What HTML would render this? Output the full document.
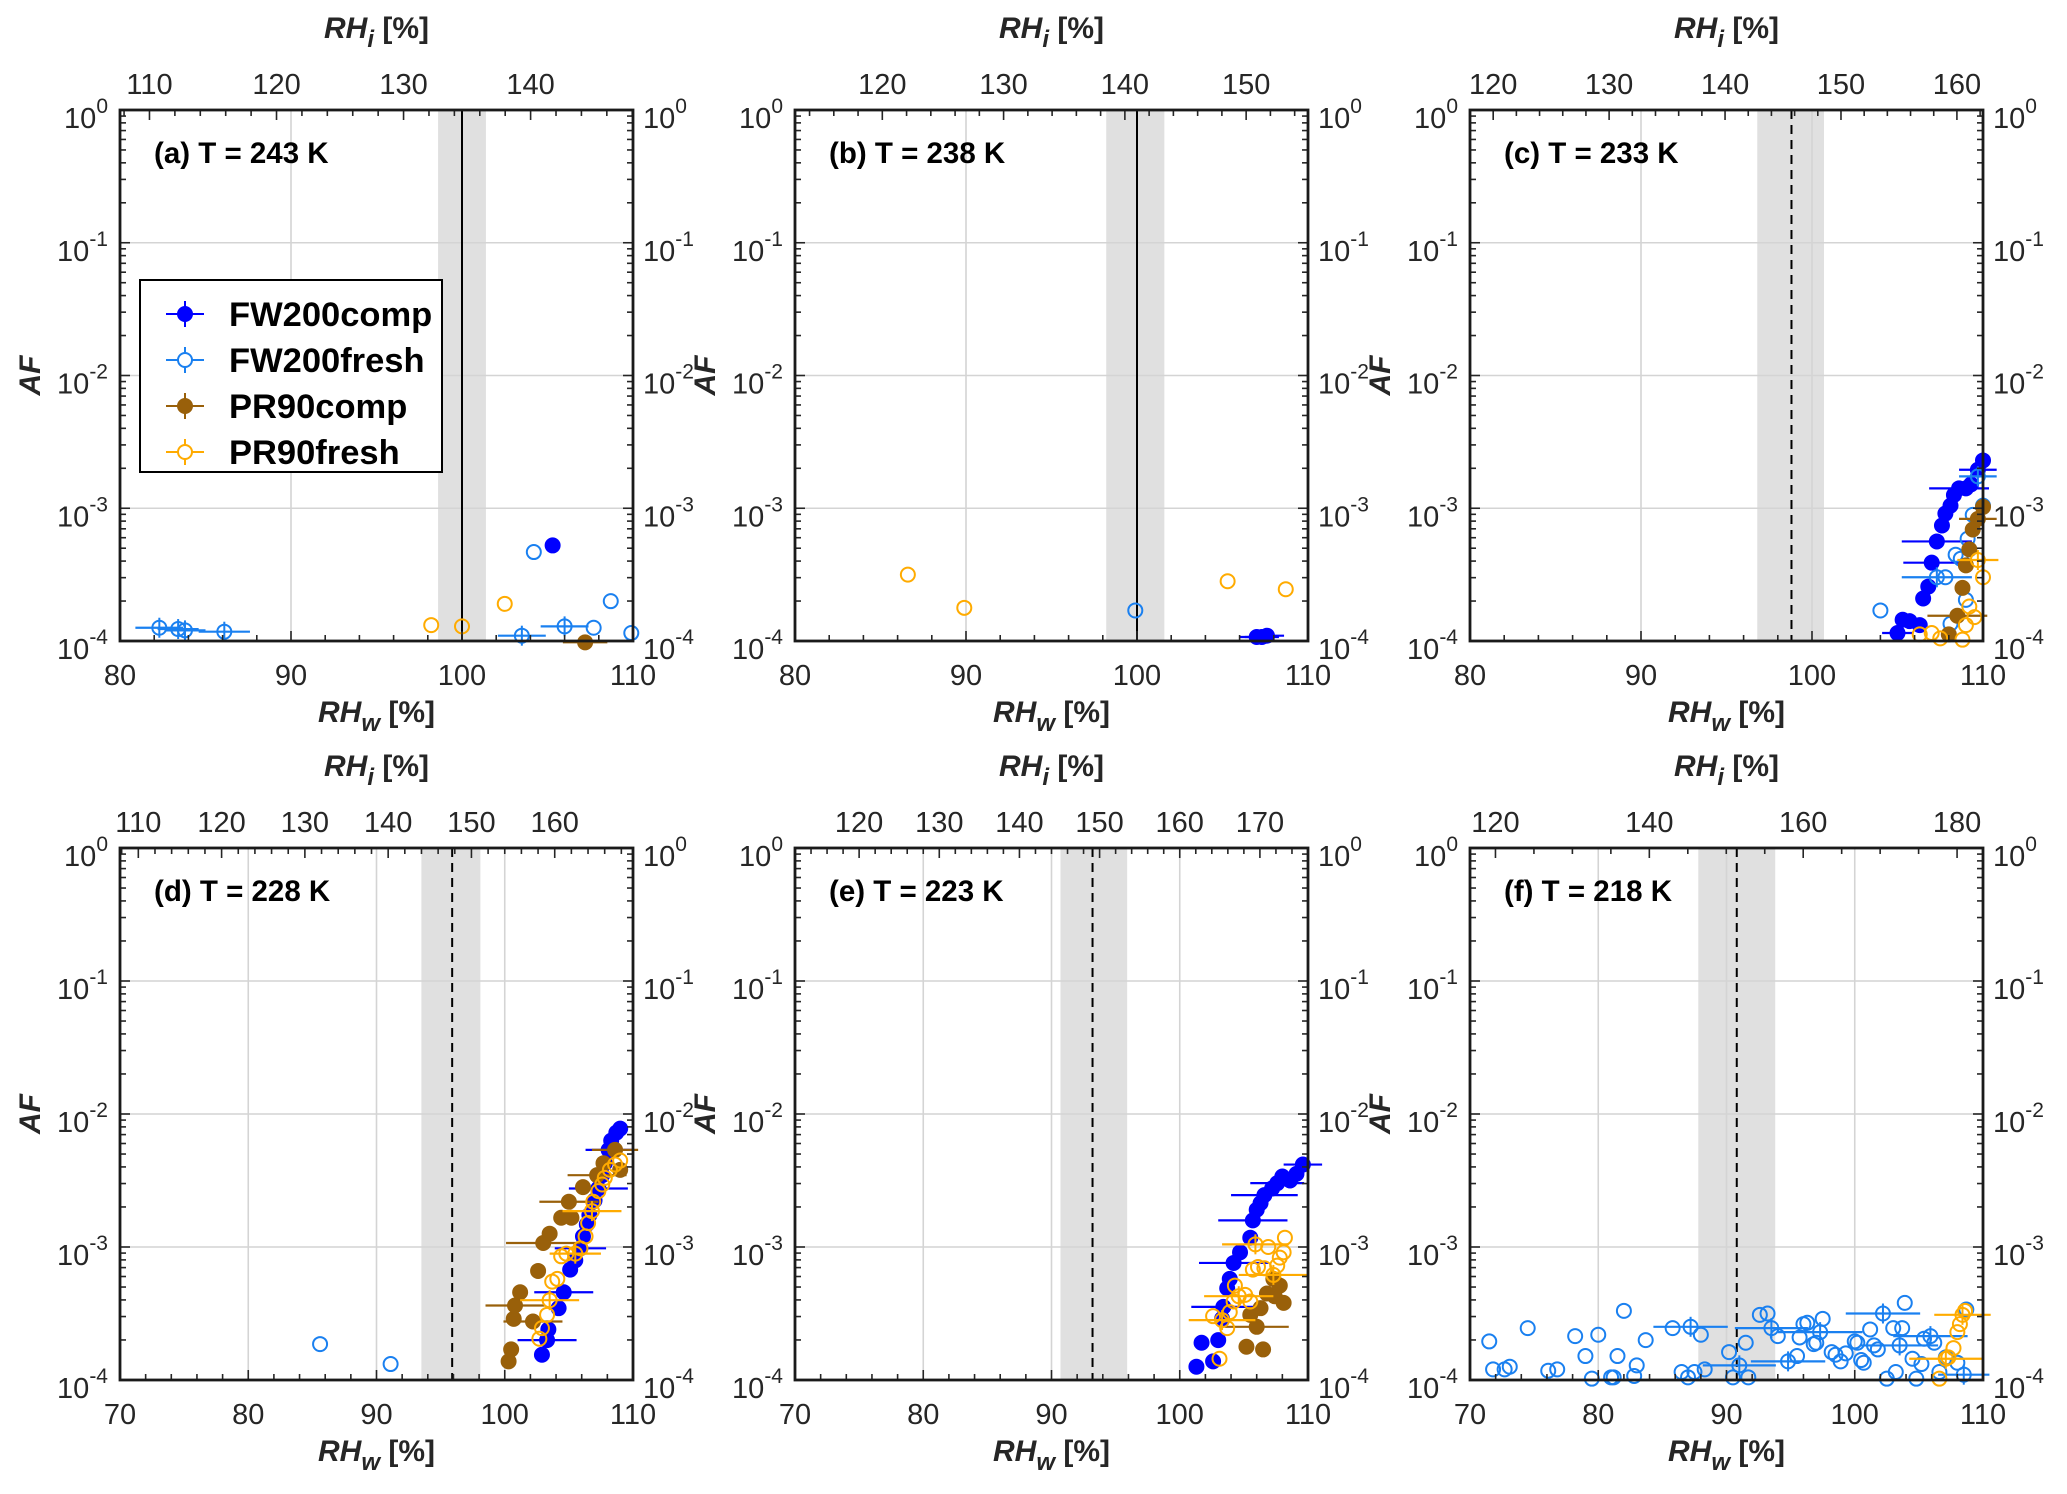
<!DOCTYPE html>
<html><head><meta charset="utf-8"><title>AF vs RH panels</title>
<style>
html,body{margin:0;padding:0;background:#fff;}
svg{display:block;font-family:"Liberation Sans",Arial,sans-serif;}
</style></head>
<body>
<svg id="fig" width="2067" height="1494" viewBox="0 0 2067 1494" xmlns="http://www.w3.org/2000/svg"></svg>
<script>
// ---------- data (RHw in %, AF as log10 values, xerr in % RHw) ----------
const a_fwc_rhw=[105.3];
const a_fwc_logaf=[-3.28];
const a_fwc_xerr=[0];
const a_fwf_rhw=[82.3,83.4,83.8,86.1,103.5,104.2,106.0,107.7,108.7,109.9];
const a_fwf_logaf=[-3.90,-3.91,-3.92,-3.93,-3.96,-3.33,-3.89,-3.90,-3.70,-3.94];
const a_fwf_xerr=[1.4,1.2,1.2,1.5,1.4,0,1.4,0,0,0];
const a_prc_rhw=[107.2];
const a_prc_logaf=[-4.01];
const a_prc_xerr=[1.3];
const a_prf_rhw=[98.2,100,102.5];
const a_prf_logaf=[-3.88,-3.89,-3.72];
const a_prf_xerr=[0,0,0];

const b_fwc_rhw=[107.0,107.3,107.6];
const b_fwc_logaf=[-3.97,-3.97,-3.96];
const b_fwc_xerr=[1,1,1];
const b_fwf_rhw=[99.9];
const b_fwf_logaf=[-3.77];
const b_fwf_xerr=[0];
const b_prc_rhw=[];
const b_prc_logaf=[];
const b_prc_xerr=[];
const b_prf_rhw=[86.6,89.9,105.3,108.7];
const b_prf_logaf=[-3.50,-3.75,-3.55,-3.61];
const b_prf_xerr=[0,0,0,0];

const c_fwc_rhw=[110.0,109.7,109.3,109.0,108.6,108.3,108.1,107.8,107.6,107.3,107.0,106.8,106.5,105.3,105.7,106.3,105.0];
const c_fwc_logaf=[-2.64,-2.71,-2.82,-2.85,-2.85,-2.90,-2.98,-3.04,-3.13,-3.25,-3.41,-3.59,-3.68,-3.84,-3.85,-3.88,-3.94];
const c_fwc_xerr=[0,1.1,0,0,1.75,0,0,0,0,2.05,1.66,0,0,0,0,0,0.9];
const c_fwf_rhw=[109.7,110.0,109.4,109.1,108.4,108.7,107.3,107.8,104.0,109.0,108.1];
const c_fwf_logaf=[-2.76,-2.98,-3.05,-3.23,-3.35,-3.38,-3.52,-3.52,-3.77,-3.69,-3.87];
const c_fwf_xerr=[1.1,0,0,0,0,0,2.05,0,0,0,0];
const c_prc_rhw=[110.0,109.7,109.4,109.2,109.0,108.8,108.5,108.0];
const c_prc_logaf=[-2.99,-3.08,-3.16,-3.31,-3.43,-3.60,-3.81,-3.95];
const c_prc_xerr=[0,1.1,0,0,0,0,1.75,0];
const c_prf_rhw=[109.7,110.0,109.2,109.5,109.0,106.3,107.0,107.5,108.8];
const c_prf_logaf=[-3.39,-3.52,-3.74,-3.82,-3.88,-3.95,-3.94,-3.98,-3.99];
const c_prf_xerr=[1.2,0,0,0,0,0,0,0,0];

const d_fwc_rhw=[102.9,103.3,103.4,104.2,104.6,105.1,105.5,105.9,106.1,106.4,106.6,107.0,107.3,107.6,107.8,108.1,108.3,108.7,109.0];
const d_fwc_logaf=[-3.81,-3.70,-3.62,-3.46,-3.34,-3.17,-3.10,-3.01,-2.92,-2.83,-2.76,-2.65,-2.56,-2.46,-2.37,-2.27,-2.20,-2.14,-2.11];
const d_fwc_xerr=[0,2.3,0,0,2.3,0,0,2.0,0,0,0,0,2.3,0,0,1.8,0,0,0];
const d_fwf_rhw=[85.6,91.1];
const d_fwf_logaf=[-3.73,-3.88];
const d_fwf_xerr=[0,0];
const d_prc_rhw=[100.3,100.5,100.7,100.8,101.2,102.2,102.6,103.0,103.5,104.4,105.2,105.0,106.1,107.2,107.7,108.6,109.0];
const d_prc_logaf=[-3.86,-3.77,-3.54,-3.44,-3.34,-3.56,-3.18,-2.97,-2.90,-2.78,-2.78,-2.66,-2.55,-2.46,-2.37,-2.27,-2.42];
const d_prc_xerr=[0,0,0,2.3,0,2.3,0,2.9,0,0,0,2.3,0,2.3,0,1.8,0];
const d_prf_rhw=[102.7,102.9,103.3,103.5,103.7,104.1,104.4,104.8,105.5,105.9,106.3,106.5,106.8,106.9,107.3,107.6,107.8,108.2,108.6,109.0];
const d_prf_logaf=[-3.69,-3.61,-3.51,-3.40,-3.26,-3.24,-3.07,-3.05,-3.05,-3.01,-2.92,-2.82,-2.73,-2.66,-2.58,-2.53,-2.48,-2.42,-2.38,-2.35];
const d_prf_xerr=[0,0,0,2.3,0,0,0,0,2.0,0,0,0,2.3,0,0,0,0,0,0,0];

const e_fwc_rhw=[101.3,101.7,102.6,103.0,103.3,103.4,103.7,103.9,104.2,104.7,105.5,105.7,106.0,106.3,106.6,107.2,107.6,108.0,108.6,109.1,109.6];
const e_fwc_logaf=[-3.90,-3.72,-3.86,-3.70,-3.54,-3.45,-3.31,-3.24,-3.12,-3.04,-2.93,-2.80,-2.72,-2.67,-2.61,-2.56,-2.52,-2.47,-2.50,-2.45,-2.38];
const e_fwc_xerr=[0,0,0,0,0,2.5,0,0,2.7,0,0,2.7,0,0,2.6,0,2.1,0,0,0,1.5];
const e_fwf_rhw=[];
const e_fwf_logaf=[];
const e_fwf_xerr=[];
const e_prc_rhw=[105.2,106.5,105.5,106.0,106.3,106.8,107.4,108.1,107.8,107.3];
const e_prc_logaf=[-3.75,-3.77,-3.51,-3.60,-3.46,-3.35,-3.37,-3.42,-3.29,-3.24];
const e_prc_xerr=[0,0,0,2.5,0,0,0,0,0,0];
const e_prf_rhw=[103.1,102.6,103.3,103.7,103.9,104.2,104.6,105.1,105.5,104.3,105.7,106.1,106.6,107.3,107.6,107.8,106.9,108.1,108.2,105.9];
const e_prf_logaf=[-3.84,-3.52,-3.55,-3.61,-3.49,-3.41,-3.37,-3.36,-3.41,-3.29,-3.17,-3.15,-3.16,-3.21,-3.14,-3.08,-3.00,-3.04,-2.93,-2.98];
const e_prf_xerr=[0,0,2.6,0,0,0,2.7,0,0,0,0,0,0,2.7,0,0,0,0,0,2.6];

const f_fwc_rhw=[];
const f_fwc_logaf=[];
const f_fwc_xerr=[];
const f_fwf_rhw=[71.5,71.8,72.7,73.1,74.5,76.1,76.8,78.2,79.0,79.5,80.0,81.0,81.2,81.5,82.0,82.8,83.0,83.7,85.8,86.5,87.0,87.2,87.5,88.0,88.3,90.2,90.5,91.0,91.5,91.7,92.6,93.2,93.5,94.0,94.8,95.5,95.7,96.0,96.3,96.8,97.0,97.3,97.5,98.2,98.5,98.9,99.3,100.0,100.2,100.5,100.7,101.2,101.5,101.8,102.2,102.5,103.0,103.2,103.5,103.7,103.9,104.5,104.8,105.2,105.4,105.9,106.2,106.6,107.1,108.0,108.5,108.7];
const f_fwf_logaf=[-3.71,-3.92,-3.92,-3.90,-3.61,-3.93,-3.92,-3.67,-3.82,-3.99,-3.66,-3.98,-3.98,-3.82,-3.48,-3.97,-3.89,-3.70,-3.61,-3.94,-3.98,-3.60,-3.94,-3.66,-3.92,-3.79,-3.98,-3.89,-3.72,-3.98,-3.51,-3.50,-3.61,-3.67,-3.86,-3.82,-3.68,-3.58,-3.57,-3.73,-3.72,-3.64,-3.54,-3.79,-3.81,-3.86,-3.80,-3.71,-3.72,-3.85,-3.87,-3.62,-3.74,-3.77,-3.50,-3.99,-3.61,-3.94,-3.74,-3.61,-3.42,-3.84,-3.99,-3.88,-3.69,-3.67,-3.72,-3.94,-3.83,-3.87,-3.96,-3.47];
const f_fwf_xerr=[0,0,0,0,0,0,0,0,0,0,0,0,0,0,0,0,0,0,0,0,0,2.9,0,0,0,0,0,2.85,0,0,0,0,2.85,0,2.9,0,0,0,0,0,0,3.3,0,0,0,0,0,0,0,0,0,0,0,0,2.9,0,0,0,3.0,0,0,0,0,0,0,2.9,0,0,0,0,2.0,0];
const f_prc_rhw=[];
const f_prc_logaf=[];
const f_prc_xerr=[];
const f_prf_rhw=[106.6,107.1,107.3,107.7,108.0,108.2,108.4,108.6];
const f_prf_logaf=[-3.99,-3.84,-3.83,-3.76,-3.64,-3.58,-3.51,-3.48];
const f_prf_xerr=[0,2.85,0,0,0,0,2.2,0];

// tick label arrays
const xTicksABC=[80,90,100,110];
const xTicksDEF=[70,80,90,100,110];
const topTicksA=[110,120,130,140];
const topTicksB=[120,130,140,150];
const topTicksC=[120,130,140,150,160];
const topTicksD=[110,120,130,140,150,160];
const topTicksE=[120,130,140,150,160,170];
const topTicksF=[120,140,160,180];
const yExponents=[0,-1,-2,-3,-4];

// ---------- drawing ----------
const NS='http://www.w3.org/2000/svg';
const svg=document.getElementById('fig');
function mk(tag,attrs,parent){const e=document.createElementNS(NS,tag);for(const k in attrs)e.setAttribute(k,attrs[k]);(parent||svg).appendChild(e);return e;}

const COL={fwc:'#0000ff',fwf:'#1a80f0',prc:'#99600a',prf:'#ffab00'};
const FILLED={fwc:true,fwf:false,prc:true,prf:false};
const TICKFS=29;

const panels=[
 {id:'a',L:120,R:633,T:110,B:641,x0:80,x1:110,fac:1.346,xt:xTicksABC,tt:topTicksA,tminor:2,line:100,dash:false,s0:98.6,s1:101.4,title:'(a) T = 243 K',S:{fwc:[a_fwc_rhw,a_fwc_logaf,a_fwc_xerr],fwf:[a_fwf_rhw,a_fwf_logaf,a_fwf_xerr],prc:[a_prc_rhw,a_prc_logaf,a_prc_xerr],prf:[a_prf_rhw,a_prf_logaf,a_prf_xerr]}},
 {id:'b',L:795,R:1308,T:110,B:641,x0:80,x1:110,fac:1.41,xt:xTicksABC,tt:topTicksB,tminor:2,line:100,dash:false,s0:98.2,s1:101.6,title:'(b) T = 238 K',S:{fwc:[b_fwc_rhw,b_fwc_logaf,b_fwc_xerr],fwf:[b_fwf_rhw,b_fwf_logaf,b_fwf_xerr],prc:[b_prc_rhw,b_prc_logaf,b_prc_xerr],prf:[b_prf_rhw,b_prf_logaf,b_prf_xerr]}},
 {id:'c',L:1470,R:1983,T:110,B:641,x0:80,x1:110,fac:1.475,xt:xTicksABC,tt:topTicksC,tminor:2,line:98.8,dash:true,s0:96.8,s1:100.7,title:'(c) T = 233 K',S:{fwc:[c_fwc_rhw,c_fwc_logaf,c_fwc_xerr],fwf:[c_fwf_rhw,c_fwf_logaf,c_fwf_xerr],prc:[c_prc_rhw,c_prc_logaf,c_prc_xerr],prf:[c_prf_rhw,c_prf_logaf,c_prf_xerr]}},
 {id:'d',L:120,R:633,T:848,B:1380,x0:70,x1:110,fac:1.54,xt:xTicksDEF,tt:topTicksD,tminor:2,line:95.9,dash:true,s0:93.5,s1:98.1,title:'(d) T = 228 K',S:{fwc:[d_fwc_rhw,d_fwc_logaf,d_fwc_xerr],fwf:[d_fwf_rhw,d_fwf_logaf,d_fwf_xerr],prc:[d_prc_rhw,d_prc_logaf,d_prc_xerr],prf:[d_prf_rhw,d_prf_logaf,d_prf_xerr]}},
 {id:'e',L:795,R:1308,T:848,B:1380,x0:70,x1:110,fac:1.60,xt:xTicksDEF,tt:topTicksE,tminor:2,line:93.2,dash:true,s0:90.7,s1:95.9,title:'(e) T = 223 K',S:{fwc:[e_fwc_rhw,e_fwc_logaf,e_fwc_xerr],fwf:[e_fwf_rhw,e_fwf_logaf,e_fwf_xerr],prc:[e_prc_rhw,e_prc_logaf,e_prc_xerr],prf:[e_prf_rhw,e_prf_logaf,e_prf_xerr]}},
 {id:'f',L:1470,R:1983,T:848,B:1380,x0:70,x1:110,fac:1.667,xt:xTicksDEF,tt:topTicksF,tminor:5,line:90.8,dash:true,s0:87.8,s1:93.8,title:'(f) T = 218 K',S:{fwc:[f_fwc_rhw,f_fwc_logaf,f_fwc_xerr],fwf:[f_fwf_rhw,f_fwf_logaf,f_fwf_xerr],prc:[f_prc_rhw,f_prc_logaf,f_prc_xerr],prf:[f_prf_rhw,f_prf_logaf,f_prf_xerr]}}
];

function drawMarker(g,kind,cx,cy,errPx){
  const c=COL[kind];
  if(errPx>0){
    const h=mk('line',{x1:cx-errPx,y1:cy,x2:cx+errPx,y2:cy,stroke:c,'stroke-width':2.2},g);
    
    
    if(!FILLED[kind]){
      const v=mk('line',{x1:cx,y1:cy-10,x2:cx,y2:cy+10,stroke:c,'stroke-width':2},g);
      
      
    }
  }
  const m=mk('circle',{cx:cx,cy:cy,r:FILLED[kind]?7.5:7,fill:FILLED[kind]?c:'none',stroke:c,'stroke-width':FILLED[kind]?1:2},g);
  
  
}

function superLabel(g,x,y,exp,anchor){
  const t=mk('text',{x:x,y:y,'font-size':TICKFS,fill:'#262626','text-anchor':anchor},g);
  t.appendChild(document.createTextNode('10'));
  const s=mk('tspan',{dy:-15,'font-size':21},t);
  s.textContent=String(exp);
  return t;
}

panels.forEach(p=>{
  const g=mk('g',{});
  
  
  const xs=v=>p.L+(v-p.x0)/(p.x1-p.x0)*(p.R-p.L);
  const ys=lg=>p.B-(lg+4)/4*(p.B-p.T);
  const band=mk('rect',{x:xs(p.s0),y:p.T,width:xs(p.s1)-xs(p.s0),height:p.B-p.T,fill:'#e0e0e0'},g);
  
  
  p.xt.forEach(v=>{
    if(v===p.x0||v===p.x1)return;
    const l=mk('line',{x1:xs(v),y1:p.T,x2:xs(v),y2:p.B,stroke:'#d4d4d4','stroke-width':1.6},g);
    
    
  });
  yExponents.forEach(e=>{
    if(e===0||e===-4)return;
    const l=mk('line',{x1:p.L,y1:ys(e),x2:p.R,y2:ys(e),stroke:'#d4d4d4','stroke-width':1.6},g);
    
    
  });
  const vl=mk('line',{x1:xs(p.line),y1:p.T,x2:xs(p.line),y2:p.B,stroke:'#000','stroke-width':2,'stroke-dasharray':p.dash?'9,6':'none'},g);
  
  
  ['fwc','fwf','prc','prf'].forEach(k=>{
    const [xv,yv,ev]=p.S[k];
    const sg=mk('g',{},g);
    
    
    xv.forEach((v,i)=>{
      const errPx=(ev[i]||0)/(p.x1-p.x0)*(p.R-p.L);
      drawMarker(sg,k,xs(v),ys(yv[i]),errPx);
    });
  });
  const tk=mk('g',{stroke:'#262626','stroke-width':1.6},g);
  
  
  for(let v=p.x0;v<=p.x1+1e-9;v+=2){
    const maj=p.xt.indexOf(v)>=0;
    mk('line',{x1:xs(v),y1:p.B,x2:xs(v),y2:p.B-(maj?10:6)},tk);
  }
  const rt=v=>p.L+(v/p.fac-p.x0)/(p.x1-p.x0)*(p.R-p.L);
  for(let v=Math.ceil(p.x0*p.fac/p.tminor)*p.tminor;v<=p.x1*p.fac;v+=p.tminor){
    const maj=p.tt.indexOf(v)>=0;
    mk('line',{x1:rt(v),y1:p.T,x2:rt(v),y2:p.T+(maj?10:6)},tk);
  }
  for(let e=-4;e<0;e++){
    for(let m=1;m<=9;m++){
      const y=ys(e+Math.log10(m));
      const len=m===1?10:6;
      mk('line',{x1:p.L,y1:y,x2:p.L+len,y2:y},tk);
      mk('line',{x1:p.R,y1:y,x2:p.R-len,y2:y},tk);
    }
  }
  const box=mk('rect',{x:p.L,y:p.T,width:p.R-p.L,height:p.B-p.T,fill:'none',stroke:'#1a1a1a','stroke-width':2.8},g);
  
  
  p.xt.forEach(v=>{
    const t=mk('text',{x:xs(v),y:p.B+44,'font-size':TICKFS,fill:'#262626','text-anchor':'middle'},g);
    t.textContent=v;
    
    
  });
  p.tt.forEach(v=>{
    const t=mk('text',{x:rt(v),y:p.T-16,'font-size':TICKFS,fill:'#262626','text-anchor':'middle'},g);
    t.textContent=v;
    
    
  });
  yExponents.forEach(e=>{
    const tl=superLabel(g,p.L-12,ys(e)+18,e,'end');
    
    
    const tr=superLabel(g,p.R+10,ys(e)+18,e,'start');
    
    
  });
  const cx=(p.L+p.R)/2;
  const xl=mk('text',{x:cx,y:p.B+81,'font-size':30,'font-weight':'bold',fill:'#262626','text-anchor':'middle'},g);
  xl.innerHTML='<tspan font-style="italic">RH</tspan><tspan font-style="italic" font-size="24" dy="9">w</tspan><tspan dy="-9"> [%]</tspan>';
  
  
  const tl=mk('text',{x:cx,y:p.T-72,'font-size':30,'font-weight':'bold',fill:'#262626','text-anchor':'middle'},g);
  tl.innerHTML='<tspan font-style="italic">RH</tspan><tspan font-style="italic" font-size="24" dy="9">i</tspan><tspan dy="-9"> [%]</tspan>';
  
  
  const yc=(p.T+p.B)/2;
  const yl=mk('text',{x:p.L-80,y:yc,'font-size':30,'font-weight':'bold','font-style':'italic',fill:'#262626','text-anchor':'middle',transform:'rotate(-90 '+(p.L-80)+' '+yc+')'},g);
  yl.textContent='AF';
  
  
  const ti=mk('text',{x:p.L+34,y:p.T+53,'font-size':29.5,'font-weight':'bold',fill:'#000'},g);
  ti.textContent=p.title;
  
  
});

// legend in panel (a)
const lg=mk('g',{});


const lb=mk('rect',{x:140,y:280,width:302,height:192,fill:'#fff',stroke:'#000','stroke-width':2},lg);


const legendKeys=['fwc','fwf','prc','prf'];
const legendNames=['FW200comp','FW200fresh','PR90comp','PR90fresh'];
legendKeys.forEach((k,i)=>{
  const y=314+i*46;
  const eg=mk('g',{},lg);
  
  
  mk('line',{x1:166,y1:y,x2:204,y2:y,stroke:COL[k],'stroke-width':2},eg);
  mk('line',{x1:185,y1:y-13,x2:185,y2:y+13,stroke:COL[k],'stroke-width':2},eg);
  mk('circle',{cx:185,cy:y,r:7,fill:FILLED[k]?COL[k]:'#fff',stroke:COL[k],'stroke-width':2},eg);
  const t=mk('text',{x:229,y:y+12,'font-size':34.5,'font-weight':'bold',fill:'#000'},eg);
  t.textContent=legendNames[i];
});
</script>
</body></html>
